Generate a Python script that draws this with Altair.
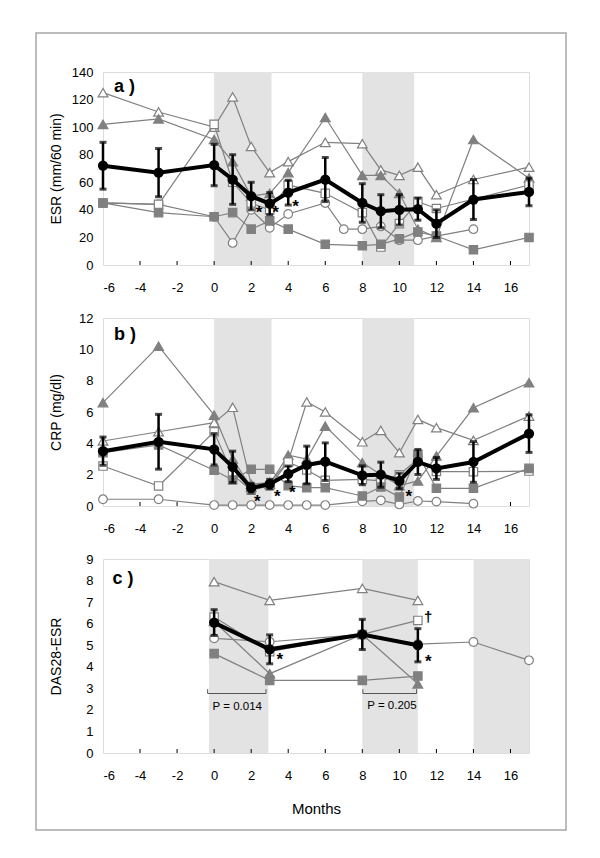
import altair as alt
import pandas as pd

FONT = "Liberation Sans"
GRAY = "#808080"
SHADE = "#e3e3e3"

# ---------------- Panel a : ESR ----------------
months_a = [-6, -3, 0, 1, 2, 3, 4, 6, 7, 8, 9, 10, 11, 12, 14, 17]
esr_open_tri = [125, 111, 100, 122, 86, 67, 75, 89, None, 88, 69, 65, 71, 51, 62, 71]
esr_fill_tri = [102, 106, 91, 75, 50, 52, 67, 107, None, 65, 65, 52, 26, 20, 91, 63]
esr_open_sq = [45, 44, 102, 60, 45, 40, 58, 52, None, 38, 13, 30, 46, 41, None, 58]
esr_fill_sq = [45, 38, 35, 38, 26, 32, 26, 15, None, 14, 15, 19, 24, 21, 11, 20]
esr_open_circ = [45, 44, 35, 16, 40, 27, 37, 45, 26, 26, 28, 18, 18, 21, 26, None]
esr_mean = [72, 67, 72.5, 62, 50, 44.5, 52.5, 62, None, 45, 39, 40, 40.5, 30, 47.5, 53]
esr_err = [17, 17.5, 15, 18, 10, 8, 9, 16, None, 14, 12, 11, 8, 10, 14.5, 10]
esr_shade_start = [0, 8]
esr_shade_end = [3.1, 10.8]
esr_star_x = [2.42, 3.32, 4.4]
esr_star_y = [40.6, 40.6, 45.3]

# ---------------- Panel b : CRP ----------------
months_b = [-6, -3, 0, 1, 2, 3, 4, 5, 6, 8, 9, 10, 11, 12, 14, 17]
crp_open_tri = [4.15, 4.74, 5.32, 6.3, 1.4, 1.5, 2.85, 6.64, 6.0, 4.1, 4.83, 3.4, 5.53, 5.0, 4.19, 5.74]
crp_fill_tri = [6.6, 10.2, 5.8, 3.0, 1.2, 1.4, 3.25, 3.0, 5.1, 2.77, 2.0, 1.3, 1.6, 3.19, 6.27, 7.87]
crp_open_sq = [2.55, 1.28, 4.74, 2.0, 1.0, 1.3, 2.8, 2.3, 1.64, 1.7, 1.6, 2.0, 3.0, 2.2, 2.19, 2.23]
crp_fill_sq = [3.4, 3.9, 2.28, 1.66, 2.34, 2.34, 1.3, 1.17, 1.17, 0.64, 1.21, 0.57, 3.3, 1.13, 1.13, 2.4]
crp_open_circ = [0.43, 0.43, 0.06, 0.06, 0.06, 0.06, 0.06, 0.06, 0.06, 0.3, 0.36, 0.1, 0.32, 0.28, 0.15, None]
crp_mean = [3.5, 4.1, 3.62, 2.5, 1.15, 1.4, 2.05, 2.62, 2.83, 1.96, 2.0, 1.6, 2.81, 2.4, 2.81, 4.62]
crp_err = [0.9, 1.75, 1.0, 1.0, 0.3, 0.3, 0.5, 1.2, 1.2, 0.6, 0.8, 0.5, 0.8, 0.7, 1.3, 1.2]
crp_shade_start = [0, 8]
crp_shade_end = [3.1, 10.8]
crp_star_x = [2.33, 3.41, 4.22, 10.51]
crp_star_y = [0.49, 0.81, 1.07, 0.81]

# ---------------- Panel c : DAS28-ESR ----------------
months_c = [0, 3, 8, 11, 14, 17]
das_open_tri = [7.95, 7.08, 7.64, 7.08, None, None]
das_fill_tri = [6.1, 3.68, 5.5, 3.21, None, None]
das_open_sq = [6.31, 4.7, 5.5, 6.15, None, None]
das_fill_sq = [4.61, 3.37, 3.37, 3.57, None, None]
das_open_circ = [5.32, 5.16, 5.5, 5.05, 5.15, 4.3]
das_mean = [6.05, 4.81, 5.5, 5.0, None, None]
das_err = [0.6, 0.67, 0.7, 0.77, None, None]
das_shade_start = [-0.28, 8, 14]
das_shade_end = [2.93, 11, 17]
das_star_x = [3.55, 11.56]
das_star_y = [4.5, 4.42]
das_dagger_x = [11.56]
das_dagger_y = [6.31]
bracket_x1 = [-0.35, 8.03]
bracket_x2 = [2.8, 10.93]
bracket_y = [2.76, 2.76]
bracket_tip = [2.96, 2.96]
p_text = ["P = 0.014", "P = 0.205"]
p_x = [1.25, 9.6]
p_y = [2.15, 2.2]

x_ticks = list(range(-6, 17, 2))

W = 426
HA, HB, HC = 193, 188, 194

STYLES = [  # shape, fill, size
    ("triangle-up", "white", 95),
    ("triangle-up", GRAY, 95),
    ("circle", "white", 75),
    ("square", "white", 70),
    ("square", GRAY, 70),
]


def frame_of(months, values):
    return pd.DataFrame([{"month": m, "value": v} for m, v in zip(months, values) if v is not None])


def build_panel(months, series, mean, err, ymax, ystep, H, ytitle, shade_s, shade_e,
                label, label_pos, stars, show_title=False, extra=None):
    xs = alt.Scale(domain=[-6, 17], nice=False, zero=False)
    ys = alt.Scale(domain=[0, ymax], nice=False, zero=True)
    xaxis = alt.Axis(values=x_ticks, grid=False, ticks=False, tickSize=0, domain=False,
                     labelExpr="datum.value + ''",
                     labelFont=FONT, labelFontSize=13, labelColor="black", labelPadding=16.5,
                     title="Months" if show_title else None,
                     titleFont=FONT, titleFontSize=15, titleFontWeight="normal",
                     titleColor="black", titlePadding=19)
    yvals = [ystep * i for i in range(int(round(ymax / ystep)) + 1)]
    yaxis = alt.Axis(values=yvals, grid=False, ticks=False, tickSize=0, domain=False,
                     labelFont=FONT, labelFontSize=13, labelColor="black", labelPadding=10,
                     title=ytitle, titleFont=FONT, titleFontSize=14, titleFontWeight="normal",
                     titleColor="black", titleAngle=270, titleBaseline="middle",
                     titleAlign="center", titleX=-47, titleY=H / 2)

    def X(f):
        return alt.X(f, type="quantitative", scale=xs, axis=xaxis)

    def Y(f):
        return alt.Y(f, type="quantitative", scale=ys, axis=yaxis)

    layers = []
    shade = pd.DataFrame({"s": shade_s, "e": shade_e})
    layers.append(alt.Chart(shade).mark_rect(color=SHADE).encode(
        x=X("s"), x2="e", y=alt.value(0), y2=alt.value(H)))
    ticks = pd.DataFrame({"month": x_ticks[1:]})
    layers.append(alt.Chart(ticks).mark_rule(color="black", strokeWidth=1).encode(
        x=X("month"), y=alt.value(H - 4), y2=alt.value(H)))

    for (shape, fill, size), vals in zip(STYLES, series):
        df = frame_of(months, vals)
        layers.append(alt.Chart(df).mark_line(color=GRAY, strokeWidth=1.2).encode(
            x=X("month"), y=Y("value")))
        layers.append(alt.Chart(df).mark_point(shape=shape, filled=True, fill=fill, stroke=GRAY,
                                               strokeWidth=1.2, size=size, opacity=1).encode(
            x=X("month"), y=Y("value")))

    md = pd.DataFrame([{"month": m, "value": v, "lo": v - e, "hi": v + e}
                       for m, v, e in zip(months, mean, err) if v is not None])
    layers.append(alt.Chart(md).mark_rule(color="black", strokeWidth=2.5).encode(
        x=X("month"), y=Y("lo"), y2="hi"))
    layers.append(alt.Chart(md).mark_tick(color="black", orient="horizontal", size=7, thickness=3).encode(
        x=X("month"), y=Y("lo")))
    layers.append(alt.Chart(md).mark_tick(color="black", orient="horizontal", size=7, thickness=3).encode(
        x=X("month"), y=Y("hi")))
    layers.append(alt.Chart(md).mark_line(color="black", strokeWidth=4).encode(
        x=X("month"), y=Y("value")))
    layers.append(alt.Chart(md).mark_point(shape="circle", filled=True, color="black", size=105,
                                           opacity=1).encode(x=X("month"), y=Y("value")))

    sd = pd.DataFrame({"x": stars[0], "y": stars[1], "t": ["*"] * len(stars[0])})
    layers.append(alt.Chart(sd).mark_text(font=FONT, fontSize=17, fontWeight="bold", color="black",
                                          baseline="middle", align="center", dy=4).encode(
        x=X("x"), y=Y("y"), text="t:N"))
    ld = pd.DataFrame({"x": [label_pos[0]], "y": [label_pos[1]], "t": [label]})
    layers.append(alt.Chart(ld).mark_text(font=FONT, fontSize=18, fontWeight="bold", color="black",
                                          baseline="middle", align="left").encode(
        x=X("x"), y=Y("y"), text="t:N"))
    if extra:
        layers.extend(extra(X, Y, H))
    return alt.layer(*layers).properties(width=W, height=H)


def frame_layer(X, Y, H):
    return [alt.Chart(pd.DataFrame({"a": [0]})).mark_rect(
        fillOpacity=0, stroke="#a6a6a6", strokeWidth=1.5).encode(
        x=alt.value(-67), x2=alt.value(463), y=alt.value(-39), y2=alt.value(758))]


def c_extra(X, Y, H):
    br = pd.DataFrame({"x1": bracket_x1, "x2": bracket_x2, "y": bracket_y, "tip": bracket_tip})
    pt = pd.DataFrame({"x": p_x, "y": p_y, "t": p_text})
    dg = pd.DataFrame({"x": das_dagger_x, "y": das_dagger_y, "t": ["†"]})
    return [
        alt.Chart(br).mark_rule(color="#555555", strokeWidth=1).encode(x=X("x1"), x2="x2", y=Y("y")),
        alt.Chart(br).mark_rule(color="#555555", strokeWidth=1).encode(x=X("x1"), y=Y("y"), y2="tip"),
        alt.Chart(br).mark_rule(color="#555555", strokeWidth=1).encode(x=X("x2"), y=Y("y"), y2="tip"),
        alt.Chart(pt).mark_text(font=FONT, fontSize=11.5, color="black", baseline="middle",
                                align="center").encode(x=X("x"), y=Y("y"), text="t:N"),
        alt.Chart(dg).mark_text(font=FONT, fontSize=15, fontWeight="bold", color="black",
                                baseline="middle", align="center").encode(x=X("x"), y=Y("y"), text="t:N"),
    ]


pa = build_panel(months_a, [esr_open_tri, esr_fill_tri, esr_open_circ, esr_open_sq, esr_fill_sq],
                 esr_mean, esr_err, 140, 20, HA, "ESR (mm/60 min)", esr_shade_start, esr_shade_end,
                 "a )", (-5.41, 129), (esr_star_x, esr_star_y), extra=frame_layer)
pb = build_panel(months_b, [crp_open_tri, crp_fill_tri, crp_open_circ, crp_open_sq, crp_fill_sq],
                 crp_mean, crp_err, 12, 2, HB, "CRP (mg/dl)", crp_shade_start, crp_shade_end,
                 "b )", (-5.41, 10.9), (crp_star_x, crp_star_y))
pc = build_panel(months_c, [das_open_tri, das_fill_tri, das_open_circ, das_open_sq, das_fill_sq],
                 das_mean, das_err, 9, 1, HC, "DAS28-ESR", das_shade_start, das_shade_end,
                 "c )", (-5.49, 8.05), (das_star_x, das_star_y), show_title=True, extra=c_extra)

chart = alt.vconcat(pa, pb, pc, spacing=53, bounds="flush").properties(
    padding={"left": 26, "top": 23, "right": 10, "bottom": 10}
).configure_view(stroke="black", strokeWidth=1.5).configure(background="white")

chart.save("out.html", embed_options={"renderer": "svg", "actions": False})
